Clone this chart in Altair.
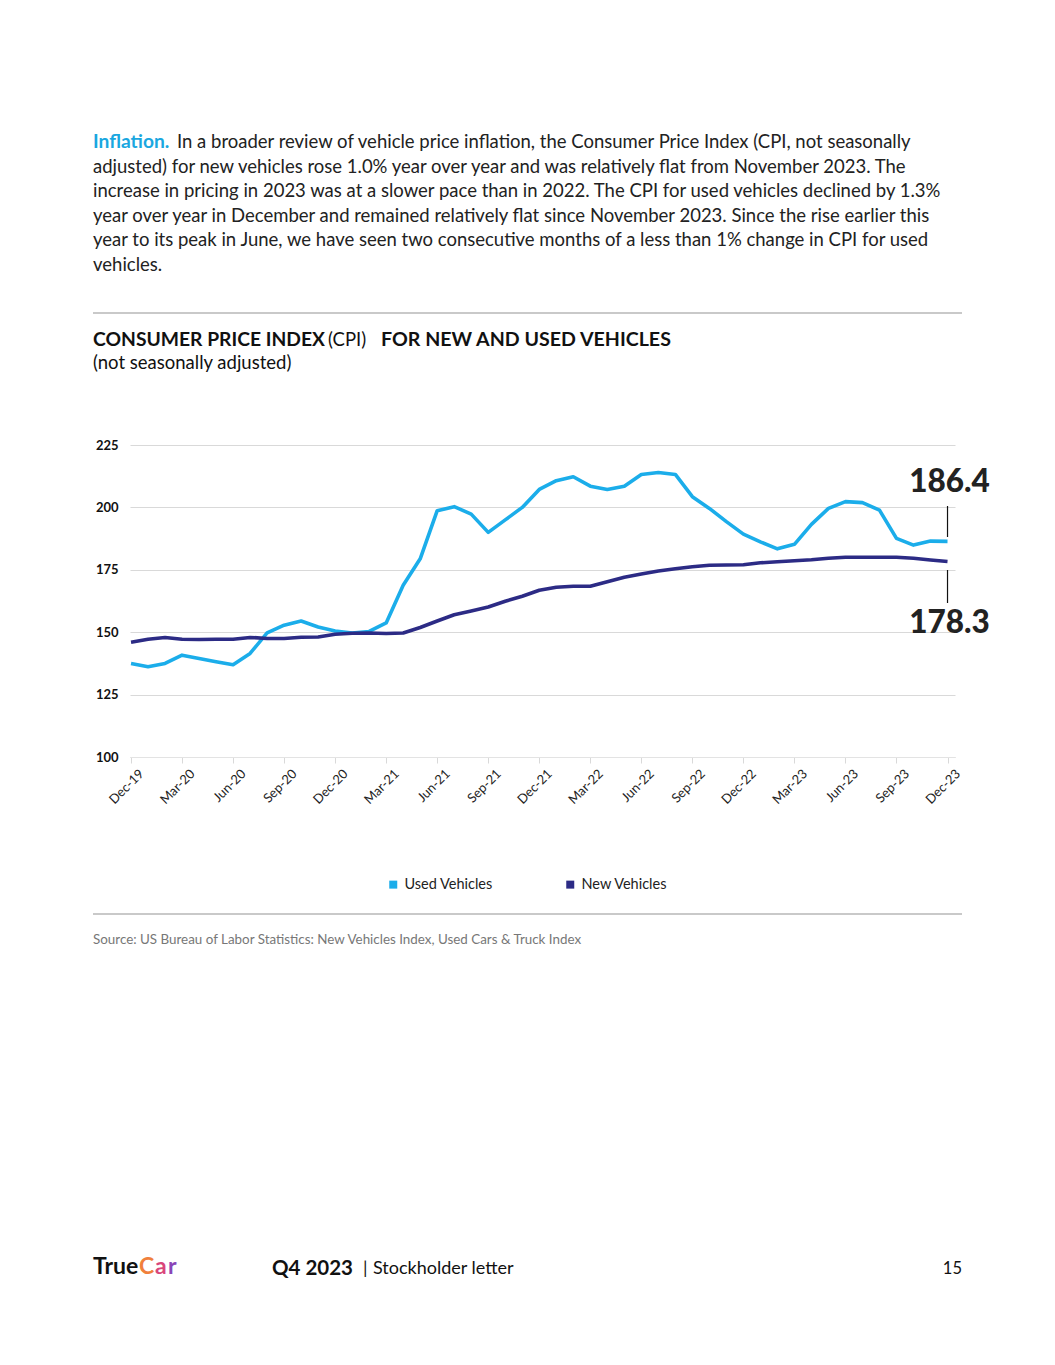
import altair as alt
import pandas as pd

# ---- data ----
tick_labels = ["Dec-19", "Mar-20", "Jun-20", "Sep-20", "Dec-20", "Mar-21", "Jun-21", "Sep-21",
               "Dec-21", "Mar-22", "Jun-22", "Sep-22", "Dec-22", "Mar-23", "Jun-23", "Sep-23", "Dec-23"]

used = [137.5, 136.2, 137.5, 140.8, 139.5, 138.2, 137.0, 141.5, 149.7, 152.8,
        154.5, 152.1, 150.5, 149.7, 150.3, 153.7, 168.8, 179.4, 198.7, 200.3,
        197.3, 190.0, 195.0, 200.0, 207.2, 210.7, 212.3, 208.5, 207.2, 208.5,
        213.2, 214.0, 213.2, 204.3, 199.6, 194.3, 189.3, 186.2, 183.4, 185.2,
        193.2, 199.6, 202.3, 201.9, 198.9, 187.6, 184.9, 186.5, 186.4]

new = [146.0, 147.2, 147.9, 147.2, 147.1, 147.2, 147.2, 147.9, 147.5, 147.5,
       148.0, 148.1, 149.2, 149.6, 149.7, 149.5, 149.7, 151.9, 154.5, 157.0,
       158.5, 160.1, 162.4, 164.4, 166.8, 168.0, 168.4, 168.4, 170.2, 172.0,
       173.3, 174.5, 175.4, 176.2, 176.8, 176.9, 177.0, 177.8, 178.2, 178.6,
       179.0, 179.6, 180.0, 180.0, 180.0, 180.0, 179.6, 178.9, 178.3]

series_names = ["Used Vehicles", "New Vehicles"]
series_colors = ["#1badea", "#2c2b85"]

rows = []
for i, v in enumerate(used):
    rows.append({"idx": i, "value": v, "series": "Used Vehicles"})
for i, v in enumerate(new):
    rows.append({"idx": i, "value": v, "series": "New Vehicles"})
df = pd.DataFrame(rows)
last = df[df["idx"] == len(used) - 1]

FONT = "Lato"
W, H = 825, 312

label_map = "{" + ",".join(f"{3*k}:'{t}'" for k, t in enumerate(tick_labels)) + "}"

x_enc = alt.X("idx:Q",
              scale=alt.Scale(domain=[-0.06, 48.44], nice=False, zero=False),
              axis=alt.Axis(values=[3 * k for k in range(len(tick_labels))],
                            labelExpr=f"{label_map}[datum.value]",
                            labelAngle=-45, labelFontSize=13, labelFont=FONT,
                            labelColor="#222", labelPadding=4, labelOffset=6,
                            ticks=True, tickColor="#d9d9d9", tickSize=6,
                            domain=True, domainColor="#e3e3e3", grid=False, title=None))
y_enc = alt.Y("value:Q",
              scale=alt.Scale(domain=[100, 225], nice=False, zero=False),
              axis=alt.Axis(values=[100, 125, 150, 175, 200, 225], labelFontSize=13,
                            labelFont=FONT, labelFontWeight="bold", labelColor="#111",
                            labelPadding=12, ticks=False, domain=False,
                            grid=True, gridColor="#d9d9d9", gridWidth=1, title=None))

lines = alt.Chart(df).mark_line(strokeWidth=3.6, strokeJoin="round").encode(
    x=x_enc, y=y_enc,
    color=alt.Color("series:N",
                    scale=alt.Scale(domain=series_names, range=series_colors),
                    sort=series_names,
                    legend=alt.Legend(orient="none", legendX=256, legendY=432,
                                      direction="horizontal", title=None,
                                      symbolType="square", symbolSize=4,
                                      symbolStrokeWidth=6, labelFont=FONT,
                                      labelFontSize=14.5, labelColor="#222",
                                      labelOffset=4, columnPadding=64)),
    detail="series:N",
)

lab_used = alt.Chart(last[last["series"] == "Used Vehicles"]).mark_text(
    font=FONT, fontWeight=900, fontSize=31.5, color="#222", align="center",
    baseline="middle", dy=-58, dx=2).encode(
    x="idx:Q", y="value:Q", text=alt.Text("value:Q", format=".1f"))
lab_new = alt.Chart(last[last["series"] == "New Vehicles"]).mark_text(
    font=FONT, fontWeight=900, fontSize=31.5, color="#222", align="center",
    baseline="middle", dy=62, dx=2).encode(
    x="idx:Q", y="value:Q", text=alt.Text("value:Q", format=".1f"))

rule_used = alt.Chart(last[last["series"] == "Used Vehicles"]).mark_rule(
    color="#111", strokeWidth=1.2).encode(x="idx:Q", y=alt.value(61), y2=alt.value(92))
rule_new = alt.Chart(last[last["series"] == "New Vehicles"]).mark_rule(
    color="#111", strokeWidth=1.2).encode(x="idx:Q", y=alt.value(125), y2=alt.value(158))


def txt(s, x, y, size, weight="normal", color="#222", align="left"):
    return alt.Chart(alt.Data(values=[{}])).mark_text(
        font=FONT, fontSize=size, fontWeight=weight, color=color,
        align=align, baseline="middle").encode(
        x=alt.value(x), y=alt.value(y), text=alt.value(s))


def hrule(y):
    return alt.Chart(alt.Data(values=[{}])).mark_rule(
        color="#c9c9c9", strokeWidth=2).encode(
        x=alt.value(-37), x2=alt.value(832), y=alt.value(y))


para = [
    "In a broader review of vehicle price inflation, the Consumer Price Index (CPI, not seasonally",
    "adjusted) for new vehicles rose 1.0% year over year and was relatively flat from November 2023. The",
    "increase in pricing in 2023 was at a slower pace than in 2022. The CPI for used vehicles declined by 1.3%",
    "year over year in December and remained relatively flat since November 2023. Since the rise earlier this",
    "year to its peak in June, we have seen two consecutive months of a less than 1% change in CPI for used",
    "vehicles.",
]
PF = 18.5
layers = [txt("Inflation.", -37, -303, PF + 0.7, "bold", "#1aa7e0"),
          txt(para[0], 47, -303, PF)]
for k, s in enumerate(para[1:], start=1):
    layers.append(txt(s, -37, -303 + 24.6 * k, PF))

layers += [
    hrule(-132),
    txt("CONSUMER PRICE INDEX", -37, -105, 19.3, "bold", "#111"),
    txt("(CPI)", 198, -105, 18.5, "normal", "#111"),
    txt("FOR NEW AND USED VEHICLES", 251, -105, 19.6, "bold", "#111"),
    txt("(not seasonally adjusted)", -37, -82, 18.5, "normal", "#111"),
    lines, rule_used, rule_new, lab_used, lab_new,
    hrule(469),
    txt("Source: US Bureau of Labor Statistics: New Vehicles Index, Used Cars & Truck Index",
        -37, 495, 13.4, "normal", "#777"),
    txt("True", -37, 822, 23, "bold", "#111"),
    txt("C", 9, 822, 23, "bold", "#f0803c"),
    txt("a", 25, 822, 23, "bold", "#d9467a"),
    txt("r", 38, 822, 23, "bold", "#8a45b8"),
    txt("Q4 2023", 142, 824, 20.5, "bold", "#111"),
    txt("|", 233, 824, 18, "normal", "#111"),
    txt("Stockholder letter", 243, 824, 18, "normal", "#111"),
    txt("15", 832, 824, 16.5, "normal", "#111", "right"),
]

chart = alt.layer(*layers).properties(
    width=W, height=H,
    autosize=alt.AutoSizeParams(type="none"),
    padding={"left": 122, "top": 437, "right": 92, "bottom": 596},
    background="white",
).configure_view(stroke=None)

chart.save("out.html", embed_options={"renderer": "svg", "actions": False})
